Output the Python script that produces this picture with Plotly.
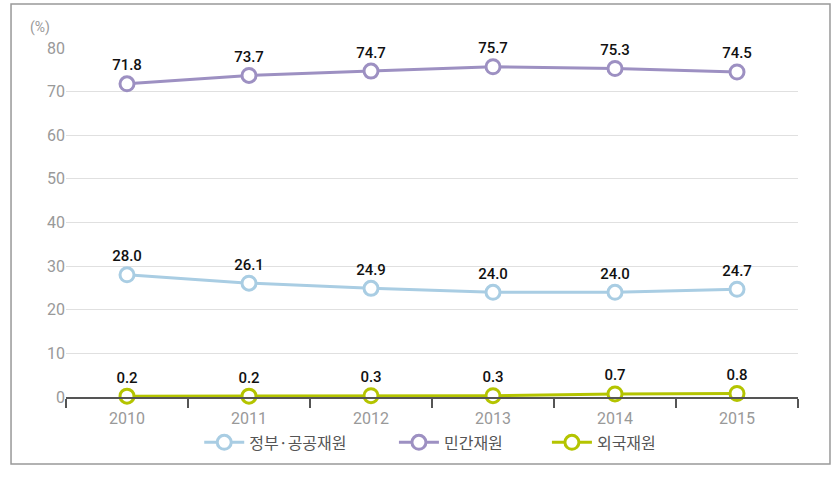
import plotly.graph_objects as go

years = ["2010", "2011", "2012", "2013", "2014", "2015"]
gov = [28.0, 26.1, 24.9, 24.0, 24.0, 24.7]
private = [71.8, 73.7, 74.7, 75.7, 75.3, 74.5]
foreign = [0.2, 0.2, 0.3, 0.3, 0.7, 0.8]
names = ["정부·공공재원", "민간재원", "외국재원"]
colors = ["#a9cde3", "#9d90c2", "#b4c400"]
yticks = [0, 10, 20, 30, 40, 50, 60, 70, 80]

num_font = "Roboto, Noto Sans CJK KR, sans-serif"
kr_font = "Noto Sans CJK KR, sans-serif"

legend_ids = ["legend", "legend2", "legend3"]
legend_x = [0.182, 0.448, 0.657]

fig = go.Figure()
for name, vals, col, lid in zip(names, [gov, private, foreign], colors, legend_ids):
    fig.add_trace(go.Scatter(
        x=years, y=vals, name=name, mode="lines+markers+text",
        line=dict(color=col, width=3),
        marker=dict(size=14, color="white", line=dict(color=col, width=3)),
        text=[f"{v:.1f}" for v in vals], textposition="top center",
        textfont=dict(family=num_font, size=15, color="#111", weight=500),
        cliponaxis=False, legend=lid,
    ))

legend_common = dict(orientation="h", y=-0.13, yanchor="middle", xanchor="left",
                     font=dict(family=kr_font, size=16, color="#555"),
                     itemwidth=40, bgcolor="rgba(0,0,0,0)")

fig.update_layout(
    width=836, height=482,
    margin=dict(l=66, r=38, t=48, b=85),
    paper_bgcolor="white", plot_bgcolor="white",
    showlegend=True,
    legend=dict(x=legend_x[0], **legend_common),
    legend2=dict(x=legend_x[1], **legend_common),
    legend3=dict(x=legend_x[2], **legend_common),
    xaxis=dict(type="category", range=[-0.5, 5.5], showgrid=False,
               showline=True, linecolor="#555", linewidth=2,
               ticks="outside", tickson="boundaries", ticklen=9, tickwidth=2, tickcolor="#555",
               ticklabelstandoff=6,
               tickfont=dict(family=num_font, size=16, color="#999")),
    yaxis=dict(range=[0, 80], tickvals=yticks, showgrid=True, gridcolor="#e0e0e0",
               zeroline=False, showline=False, ticks="",
               tickfont=dict(family=num_font, size=16, color="#999")),
    shapes=[dict(type="rect", xref="paper", yref="paper",
                 x0=-0.0751, x1=1.0437, y0=-0.192, y1=1.126,
                 line=dict(color="#999", width=1.5), fillcolor="rgba(0,0,0,0)")],
    annotations=[dict(text="(%)", xref="paper", yref="paper", x=-0.035, y=1.06,
                      xanchor="center", yanchor="middle", showarrow=False,
                      font=dict(family=num_font, size=14, color="#999"))],
)

fig.write_html("out.html", config={"displayModeBar": False},
               post_script="document.body.style.margin='0px';document.body.style.overflow='hidden';")
